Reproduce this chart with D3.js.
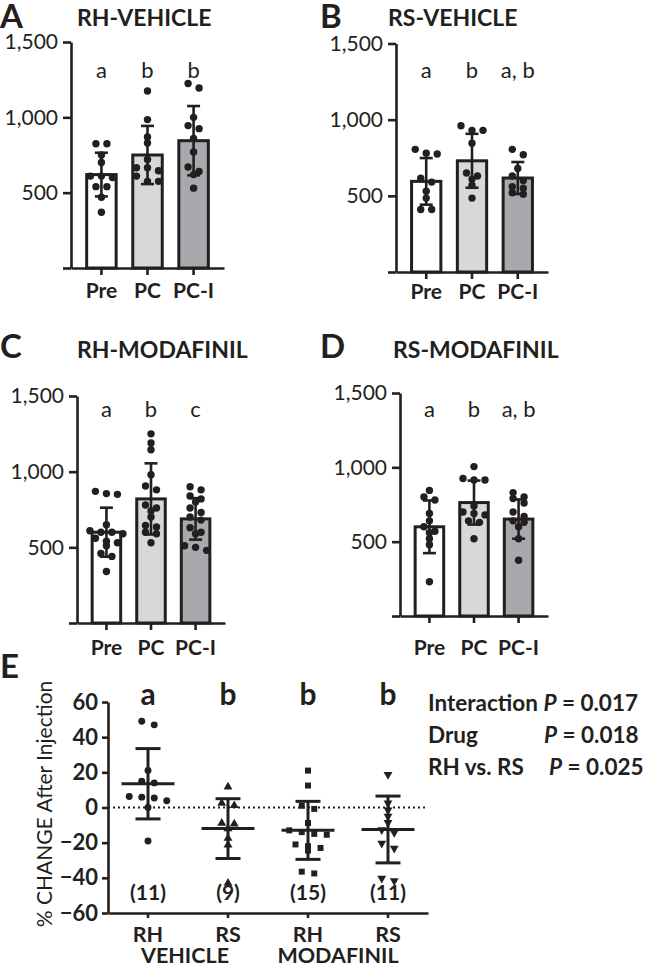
<!DOCTYPE html>
<html><head><meta charset="utf-8">
<script src="https://cdn.jsdelivr.net/npm/d3@7"></script>
<style>
body{margin:0;background:#fff}
svg{display:block}
text{font-family:Lato,"Open Sans",sans-serif;fill:#231f20}
</style>
</head><body>
<svg id="c" width="647" height="966"></svg>
<script>
// ---------- DATA ----------
const groups = ["Pre", "PC", "PC-I"];
const yTicks = [0, 500, 1000, 1500];
const panelLetters = ["A", "B", "C", "D"];
const panelTitles = ["RH-VEHICLE", "RS-VEHICLE", "RH-MODAFINIL", "RS-MODAFINIL"];

const sigA = ["a", "b", "b"];
const sigB = ["a", "b", "a, b"];
const sigC = ["a", "b", "c"];
const sigD = ["a", "b", "a, b"];

// Panel A: RH-VEHICLE
const aPre = [825, 825, 750, 700, 610, 610, 600, 540, 540, 470, 370];
const aPC  = [1175, 985, 870, 830, 720, 665, 665, 645, 610, 575, 575];
const aPCI = [1225, 1195, 1000, 945, 925, 860, 770, 670, 640, 620, 530];
const aMean = [620, 750, 845];
const aSD   = [145, 193, 230];

// Panel B: RS-VEHICLE
const bPre = [805, 780, 775, 615, 590, 530, 485, 410, 410];
const bPC  = [960, 930, 930, 845, 650, 630, 610, 570, 485];
const bPCI = [805, 770, 680, 630, 600, 560, 550, 520, 510];
const bMean = [595, 730, 617];
const bSD   = [153, 177, 105];

// Panel C: RH-MODAFINIL
const cPre = [870, 855, 850, 650, 610, 600, 600, 590, 560, 540, 530, 510, 460, 440, 340];
const cPC  = [1250, 1190, 1145, 980, 905, 880, 780, 760, 740, 700, 645, 635, 600, 590, 530];
const cPCI = [900, 880, 840, 820, 800, 760, 730, 700, 680, 630, 600, 590, 510, 500, 480];
const cMean = [600, 820, 688];
const cSD   = [162, 235, 137];

// Panel D: RS-MODAFINIL
const dPre = [845, 800, 780, 690, 640, 600, 570, 560, 520, 480, 230];
const dPC  = [1005, 925, 915, 915, 740, 700, 690, 680, 640, 630, 520];
const dPCI = [830, 800, 790, 760, 700, 670, 640, 630, 600, 520, 375];
const dMean = [600, 763, 652];
const dSD   = [177, 148, 132];

// Panel E: % change after injection
const eCats   = ["RH-V", "RS-V", "RH-M", "RS-M"];
const eLabels = ["RH", "RS", "RH", "RS"];
const eDrugs  = ["VEHICLE", "MODAFINIL"];
const eSig    = ["a", "b", "b", "b"];
const eN      = ["(11)", "(9)", "(15)", "(11)"];
const eTicks  = [-60, -40, -20, 0, 20, 40, 60];
const eRHVeh = [49, 47, 21, 15, 14, 6.3, 5.9, 5.4, 3.8, 0, -19];
const eRSVeh = [11.7, 2.5, 1.1, -8.9, -9.3, -12, -17.5, -21.3, -43];
const eRHMod = [21, 12.5, 1, -0.8, -8.8, -13, -14, -15, -15.5, -21, -22, -23, -24.5, -36.5, -37.5];
const eRSMod = [18.7, 2.5, -1.5, -5, -8.6, -12.7, -14.3, -20.4, -23.2, -40.3, -41.7];
const eMean = [13.5, -12, -13, -12.5];
const eSD   = [20, 17, 16.5, 19];
const statLabels = ["Interaction", "Drug", "RH vs. RS"];
const statP = ["0.017", "0.018", "0.025"];

// ---------- DRAW ----------
const ink = "#231f20";
const barFills = ["#ffffff", "#d6d8d9", "#a7a9ac"];
const svg = d3.select("#c");

function swarm(vals, ypx, tol, sp) {
  const pts = vals.map(v => ({v, py: ypx(v)})).sort((a, b) => a.py - b.py);
  const rows = []; let cur = null;
  pts.forEach(p => {
    if (cur && p.py - cur[0].py <= tol) cur.push(p);
    else { cur = [p]; rows.push(cur); }
  });
  rows.forEach(r => r.forEach((p, i) => p.dx = (i - (r.length - 1) / 2) * sp));
  return pts;
}

const panels = [
  {series:[aPre,aPC,aPCI], mean:aMean, sd:aSD, sig:sigA, L:{ax:71, top:42, base:268, xEnd:224, lx:0, ly:28, tx:77, ty:26, sy:78, gy:298}},
  {series:[bPre,bPC,bPCI], mean:bMean, sd:bSD, sig:sigB, L:{ax:396, top:43.5, base:272, xEnd:548, lx:320, ly:28, tx:388, ty:26, sy:78, gy:299}},
  {series:[cPre,cPC,cPCI], mean:cMean, sd:cSD, sig:sigC, L:{ax:77, top:396, base:623, xEnd:225, lx:0, ly:358, tx:77, ty:358, sy:417, gy:655}},
  {series:[dPre,dPC,dPCI], mean:dMean, sd:dSD, sig:sigD, L:{ax:400, top:393, base:616, xEnd:548, lx:320, ly:358, tx:393, ty:358, sy:417, gy:655}}
];

panels.forEach((p, pi) => {
  const L = p.L;
  const g = svg.append("g");
  const y = d3.scaleLinear().domain([0, 1500]).range([L.base, L.top]);
  const x = d3.scaleBand().domain(groups).range([L.ax, L.xEnd]).paddingInner(0.36).paddingOuter(0.34);

  g.append("text").attr("x", L.lx).attr("y", L.ly).attr("font-size", 33).attr("font-weight", 700).text(panelLetters[pi]);
  g.append("text").attr("x", L.tx).attr("y", L.ty).attr("font-size", 23).attr("font-weight", 700).text(panelTitles[pi]);

  g.selectAll("rect.bar").data(groups).join("rect")
    .attr("x", d => x(d)).attr("width", x.bandwidth())
    .attr("y", (d, i) => y(p.mean[i])).attr("height", (d, i) => L.base - y(p.mean[i]))
    .attr("fill", (d, i) => barFills[i]).attr("stroke", ink).attr("stroke-width", 3);

  groups.forEach((gr, i) => {
    const cx = x(gr) + x.bandwidth() / 2;
    const hi = y(p.mean[i] + p.sd[i]), lo = y(p.mean[i] - p.sd[i]);
    g.append("line").attr("x1", cx).attr("x2", cx).attr("y1", hi).attr("y2", lo).attr("stroke", ink).attr("stroke-width", 2.6);
    [hi, lo].forEach(yy => g.append("line").attr("x1", cx - 6.5).attr("x2", cx + 6.5).attr("y1", yy).attr("y2", yy).attr("stroke", ink).attr("stroke-width", 2.6));
  });

  groups.forEach((gr, i) => {
    const cx = x(gr) + x.bandwidth() / 2;
    const pts = swarm(p.series[i], y, 5.5, 11);
    g.selectAll(null).data(pts).join("circle")
      .attr("cx", d => cx + d.dx).attr("cy", d => d.py).attr("r", 3.7).attr("fill", ink);
  });

  groups.forEach((gr, i) => {
    g.append("text").attr("x", x(gr) + x.bandwidth() / 2).attr("y", L.sy)
      .attr("text-anchor", "middle").attr("font-size", 22).text(p.sig[i]);
  });

  const ya = g.append("g").attr("transform", `translate(${L.ax},0)`)
    .call(d3.axisLeft(y).tickValues(yTicks).tickSize(8).tickSizeOuter(0).tickPadding(5)
      .tickFormat(d => d === 0 ? "" : d3.format(",")(d)));
  const xa = g.append("g").attr("transform", `translate(0,${L.base})`)
    .call(d3.axisBottom(x).tickSize(7).tickSizeOuter(0).tickFormat(""));
  [ya, xa].forEach(a => {
    a.select(".domain").attr("stroke", ink).attr("stroke-width", 2.6);
    a.selectAll(".tick line").attr("stroke", ink).attr("stroke-width", 2.6);
  });
  ya.selectAll(".tick text").attr("font-size", 21).attr("font-family", "Lato").attr("fill", ink);

  groups.forEach(gr => {
    g.append("text").attr("x", x(gr) + x.bandwidth() / 2).attr("y", L.gy)
      .attr("text-anchor", "middle").attr("font-size", 21).attr("font-weight", 700).text(gr);
  });
});

// ---------- Panel E ----------
{
  const g = svg.append("g");
  const y = d3.scaleLinear().domain([-60, 60]).range([913, 702]);
  const x = d3.scaleBand().domain(eCats).range([108, 428]);
  const series = [eRHVeh, eRSVeh, eRHMod, eRSMod];
  const sym = [
    {t: d3.symbolCircle, s: 38, r: 0},
    {t: d3.symbolTriangle, s: 34, r: 0},
    {t: d3.symbolSquare, s: 36, r: 0},
    {t: d3.symbolTriangle, s: 34, r: 180}
  ];

  g.append("text").attr("x", 0).attr("y", 678).attr("font-size", 33).attr("font-weight", 700).text("E");

  g.append("line").attr("x1", 108).attr("x2", 428).attr("y1", y(0)).attr("y2", y(0))
    .attr("stroke", ink).attr("stroke-width", 2).attr("stroke-dasharray", "2 3");

  eCats.forEach((c, i) => {
    const cx = x(c) + x.bandwidth() / 2;
    const pts = swarm(series[i], y, 5.2, 12.5);
    g.selectAll(null).data(pts).join("path")
      .attr("d", d3.symbol().type(sym[i].t).size(sym[i].s))
      .attr("transform", d => `translate(${cx + d.dx},${d.py}) rotate(${sym[i].r})`)
      .attr("fill", ink);
    const m = y(eMean[i]), hi = y(eMean[i] + eSD[i]), lo = y(eMean[i] - eSD[i]);
    g.append("line").attr("x1", cx - 26.5).attr("x2", cx + 26.5).attr("y1", m).attr("y2", m).attr("stroke", ink).attr("stroke-width", 3);
    g.append("line").attr("x1", cx).attr("x2", cx).attr("y1", hi).attr("y2", lo).attr("stroke", ink).attr("stroke-width", 3);
    [hi, lo].forEach(yy => g.append("line").attr("x1", cx - 12.5).attr("x2", cx + 12.5).attr("y1", yy).attr("y2", yy).attr("stroke", ink).attr("stroke-width", 3));

    g.append("text").attr("x", cx).attr("y", 705).attr("text-anchor", "middle").attr("font-size", 30).attr("font-weight", 700).text(eSig[i]);
    g.append("text").attr("x", cx).attr("y", 900).attr("text-anchor", "middle").attr("font-size", 21).attr("font-weight", 700).text(eN[i]);
    g.append("text").attr("x", cx).attr("y", 942).attr("text-anchor", "middle").attr("font-size", 21.5).attr("font-weight", 700).text(eLabels[i]);
  });
  g.append("text").attr("x", 185).attr("y", 963).attr("text-anchor", "middle").attr("font-size", 21.5).attr("font-weight", 700).text(eDrugs[0]);
  g.append("text").attr("x", 338).attr("y", 963).attr("text-anchor", "middle").attr("font-size", 21.5).attr("font-weight", 700).text(eDrugs[1]);

  const ya = g.append("g").attr("transform", "translate(108,0)")
    .call(d3.axisLeft(y).tickValues(eTicks).tickSize(6).tickSizeOuter(0).tickPadding(4));
  const xa = g.append("g").attr("transform", `translate(0,${y(-60)})`)
    .call(d3.axisBottom(x).tickSize(5).tickSizeOuter(0).tickFormat(""));
  [ya, xa].forEach(a => {
    a.select(".domain").attr("stroke", ink).attr("stroke-width", 2.6);
    a.selectAll(".tick line").attr("stroke", ink).attr("stroke-width", 2.6);
  });
  ya.selectAll(".tick text").attr("font-size", 22).attr("font-weight", 700).attr("font-family", "Lato").attr("fill", ink);

  g.append("text").attr("transform", "translate(52,804) rotate(-90)").attr("text-anchor", "middle")
    .attr("font-size", 21).text("% CHANGE After Injection");

  const px = [null, 544, 549];
  const sy = [711, 743, 775];
  statLabels.forEach((s, i) => {
    const t = g.append("text").attr("x", 428).attr("y", sy[i]).attr("font-size", 22.5).attr("font-weight", 700);
    t.append("tspan").text(s + (i === 0 ? " " : ""));
    const tp = t.append("tspan").attr("font-style", "italic").text("P");
    if (px[i] !== null) tp.attr("x", px[i]);
    t.append("tspan").text(" = " + statP[i]);
  });
}
</script>
</body></html>
